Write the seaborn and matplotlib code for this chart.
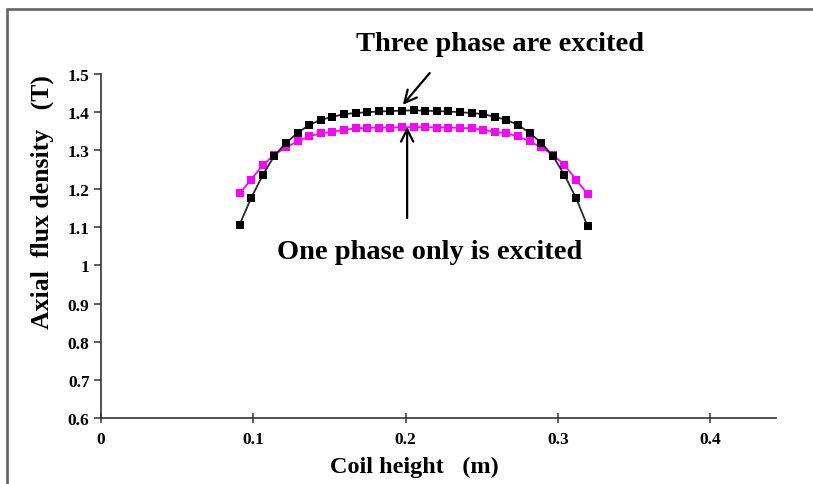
import matplotlib
matplotlib.use("Agg")
import matplotlib.pyplot as plt
import seaborn as sns
import pandas as pd
from matplotlib.lines import Line2D
from matplotlib.ticker import FuncFormatter

# Coil height positions (m)
coil_height = [0.0911, 0.0987, 0.1063, 0.1139, 0.1215, 0.1292, 0.1368, 0.1444,
               0.1520, 0.1596, 0.1672, 0.1748, 0.1824, 0.1900, 0.1976, 0.2053,
               0.2129, 0.2205, 0.2281, 0.2357, 0.2433, 0.2509, 0.2585, 0.2661,
               0.2737, 0.2814, 0.2890, 0.2966, 0.3042, 0.3118, 0.3194]

# Axial flux density (T), three phases excited
three_phase = [1.106, 1.176, 1.236, 1.286, 1.320, 1.346, 1.367, 1.380,
               1.388, 1.395, 1.398, 1.400, 1.402, 1.403, 1.404, 1.405,
               1.404, 1.403, 1.402, 1.400, 1.398, 1.395, 1.388, 1.380,
               1.367, 1.346, 1.320, 1.286, 1.236, 1.176, 1.102]

# Axial flux density (T), one phase only excited
one_phase = [1.188, 1.224, 1.262, 1.289, 1.308, 1.324, 1.337, 1.345,
             1.349, 1.354, 1.358, 1.359, 1.360, 1.360, 1.361, 1.361,
             1.361, 1.360, 1.360, 1.359, 1.358, 1.354, 1.349, 1.345,
             1.337, 1.324, 1.308, 1.289, 1.262, 1.224, 1.186]

x_ticks = [0, 0.1, 0.2, 0.3, 0.4]
y_ticks = [0.6, 0.7, 0.8, 0.9, 1.0, 1.1, 1.2, 1.3, 1.4, 1.5]

sns.set_theme(style="white")
plt.rcParams["font.family"] = ["Liberation Serif", "DejaVu Serif"]
plt.rcParams["font.weight"] = "bold"
plt.rcParams["text.color"] = "black"
plt.rcParams["xtick.color"] = "black"
plt.rcParams["ytick.color"] = "black"
plt.rcParams["axes.labelcolor"] = "black"

df = pd.DataFrame({"h": coil_height, "three": three_phase, "one": one_phase})

fig = plt.figure(figsize=(8.13, 4.85), dpi=100)
ax = fig.add_axes([0.1239, 0.1355, 0.8306, 0.7099])

sns.lineplot(data=df, x="h", y="one", ax=ax, color="#ff00ff", marker="s",
             markersize=6, markeredgewidth=0, linewidth=1.3, zorder=2)
sns.lineplot(data=df, x="h", y="three", ax=ax, color="#2a2a2a", marker="s",
             markersize=6, markeredgewidth=0, markerfacecolor="black",
             linewidth=1.3, zorder=3)

ax.set_xlim(0, 0.443)
ax.set_ylim(0.6, 1.5)
ax.set_xticks(x_ticks)
ax.set_yticks(y_ticks)
ax.xaxis.set_major_formatter(FuncFormatter(lambda v, p: f"{v:g}"))
ax.yaxis.set_major_formatter(FuncFormatter(lambda v, p: f"{v:g}"))

for side in ("top", "right"):
    ax.spines[side].set_visible(False)
for side in ("left", "bottom"):
    ax.spines[side].set_color("#333333")
    ax.spines[side].set_linewidth(1.2)

ax.tick_params(axis="x", direction="inout", length=7, width=1.1, color="#333333",
               labelsize=12.5, pad=6, bottom=True)
ax.tick_params(axis="y", direction="out", length=5, width=1.1, color="#333333",
               labelsize=12.5, pad=3, left=True)
for lbl in ax.get_xticklabels() + ax.get_yticklabels():
    lbl.set_fontweight("bold")

ax.set_xlabel("Coil height   (m)", fontsize=17.5, fontweight="bold")
ax.set_ylabel("Axial  flux density   (T)", fontsize=18.5, fontweight="bold")
ax.xaxis.set_label_coords(0.464, -0.108)
ax.yaxis.set_label_coords(-0.069, 0.631)

# Annotations for the two curves
ax.annotate("", xy=(0.197, 1.414), xytext=(0.217, 1.508),
            arrowprops=dict(arrowstyle="->", color="black", lw=1.6,
                            mutation_scale=22), annotation_clip=False)
ax.annotate("", xy=(0.201, 1.369), xytext=(0.201, 1.116),
            arrowprops=dict(arrowstyle="->", color="black", lw=1.6,
                            mutation_scale=22))
fig.text(0.615, 0.909, "Three phase are excited", fontsize=20.5,
         fontweight="bold", ha="center", va="center")
ax.text(0.216, 1.035, "One phase only is excited", fontsize=20.5,
        fontweight="bold", ha="center", va="center")

# Outer frame lines (top and left)
fig.add_artist(Line2D([0.0086, 1.0], [0.979, 0.979], transform=fig.transFigure,
                      color="#6a6a6a", linewidth=2))
fig.add_artist(Line2D([0.0086, 0.0086], [0.0, 0.979], transform=fig.transFigure,
                      color="#6a6a6a", linewidth=2))

fig.savefig("out.png", dpi=100)
